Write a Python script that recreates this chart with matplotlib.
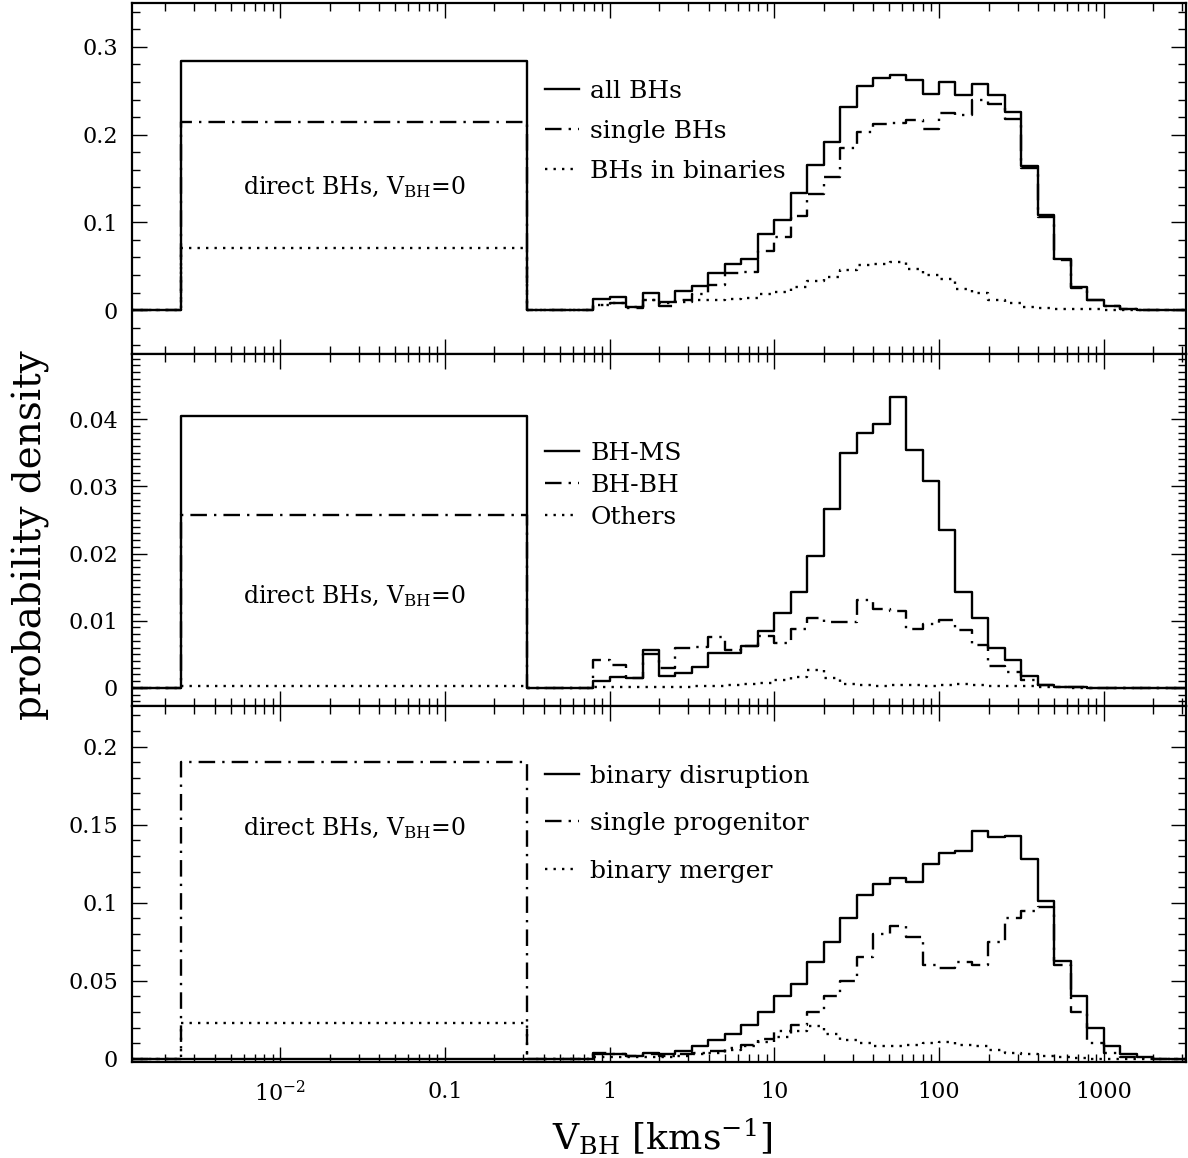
import numpy as np
import matplotlib.pyplot as plt
from matplotlib.ticker import FixedLocator, FuncFormatter, MultipleLocator, NullFormatter

plt.rcParams['font.family'] = 'DejaVu Serif'
plt.rcParams['mathtext.fontset'] = 'dejavuserif'

# velocity bins: 0.1 dex from log V = -0.1 upward; direct BHs put in [10^-2.6, 10^-0.5]
log_lo = -0.1
dlog = 0.1
box_lo, box_hi = -2.6, -0.5
xmin, xmax = 10**-2.9, 10**3.5

# top panel: all / single / binary BHs
all_box, single_box, bin_box = 0.284, 0.214, 0.0705
all_bhs = [0.0123, 0.0146, 0.003, 0.020, 0.0096, 0.022, 0.028, 0.042, 0.053, 0.058,
           0.0865, 0.103, 0.133, 0.165, 0.192, 0.231, 0.255, 0.265, 0.268, 0.262,
           0.246, 0.260, 0.245, 0.258, 0.245, 0.226, 0.164, 0.108, 0.058, 0.026,
           0.012, 0.0046, 0.0015, 0.0005]
single_bhs = [0.006, 0.0085, 0.002, 0.0115, 0.0046, 0.012, 0.018, 0.029, 0.042, 0.043,
              0.067, 0.083, 0.107, 0.132, 0.152, 0.185, 0.203, 0.212, 0.213, 0.217,
              0.206, 0.225, 0.222, 0.239, 0.235, 0.218, 0.162, 0.106, 0.057, 0.025,
              0.0115, 0.0043, 0.0013, 0.0004]
binary_bhs = [0.006, 0.008, 0.004, 0.011, 0.008, 0.0096, 0.0115, 0.012, 0.013, 0.014,
              0.018, 0.021, 0.026, 0.033, 0.038, 0.046, 0.051, 0.053, 0.055, 0.047,
              0.040, 0.035, 0.024, 0.019, 0.012, 0.0077, 0.004, 0.0023, 0.0015, 0.001,
              0.0008, 0.0004, 0.0002, 0.0001]

# middle panel: binary types
bhms_box, bhbh_box, other_box = 0.0405, 0.0257, 0.0003
bh_ms = [0.0010, 0.0016, 0.0014, 0.0056, 0.0017, 0.0022, 0.0031, 0.0052, 0.0052, 0.0062,
         0.0085, 0.0112, 0.0143, 0.0196, 0.0267, 0.0350, 0.0380, 0.0393, 0.0433, 0.0354,
         0.0308, 0.0235, 0.0142, 0.0104, 0.0059, 0.0042, 0.0017, 0.0005, 0.0002, 0.0001,
         0.0, 0.0, 0.0, 0.0]
bh_bh = [0.0041, 0.0034, 0.0014, 0.0050, 0.0030, 0.0060, 0.0061, 0.0075, 0.0057, 0.0062,
         0.0077, 0.0067, 0.0087, 0.0104, 0.0098, 0.0098, 0.0131, 0.0117, 0.0114, 0.0087,
         0.0095, 0.0101, 0.0086, 0.0064, 0.0032, 0.0023, 0.0011, 0.0004, 0.0002, 0.0001,
         0.0, 0.0, 0.0, 0.0]
others = [0.0001, 0.0002, 0.0002, 0.0002, 0.0002, 0.0002, 0.0003, 0.0003, 0.0004, 0.0006,
          0.0007, 0.0011, 0.0016, 0.0027, 0.0015, 0.0006, 0.0004, 0.0003, 0.0004, 0.0005,
          0.0003, 0.0004, 0.0006, 0.0004, 0.0003, 0.0003, 0.0003, 0.0002, 0.0001, 0.0,
          0.0, 0.0, 0.0, 0.0]

# bottom panel: formation channel
disr_box, sprog_box, merger_box = 0.0, 0.190, 0.023
disruption = [0.003, 0.003, 0.002, 0.004, 0.003, 0.005, 0.008, 0.012, 0.016, 0.022,
              0.030, 0.040, 0.048, 0.062, 0.075, 0.090, 0.105, 0.112, 0.116, 0.113,
              0.125, 0.132, 0.133, 0.146, 0.142, 0.143, 0.128, 0.101, 0.063, 0.040,
              0.020, 0.008, 0.003, 0.001]
single_prog = [0.004, 0.003, 0.002, 0.003, 0.002, 0.003, 0.004, 0.005, 0.007, 0.009,
               0.013, 0.018, 0.022, 0.030, 0.040, 0.050, 0.065, 0.080, 0.085, 0.078,
               0.060, 0.058, 0.062, 0.060, 0.075, 0.090, 0.095, 0.097, 0.060, 0.030,
               0.010, 0.004, 0.001, 0.0005]
merger = [0.001, 0.001, 0.001, 0.001, 0.001, 0.002, 0.003, 0.004, 0.006, 0.008,
          0.011, 0.014, 0.018, 0.021, 0.016, 0.012, 0.010, 0.008, 0.008, 0.009,
          0.010, 0.011, 0.009, 0.008, 0.006, 0.004, 0.003, 0.002, 0.001, 0.0005,
          0.0, 0.0, 0.0, 0.0]


def step_curve(box, hist):
    n = len(hist)
    hist_edges = 10**(log_lo + dlog * np.arange(n + 1))
    x = np.concatenate([[xmin, 10**box_lo, 10**box_hi], hist_edges, [xmax]])
    y = np.concatenate([[0.0, box, 0.0], hist, [0.0, 0.0]])
    return x, y


dashdot = (0, (7, 3, 1, 3))
dotted = (0, (1, 2.6))
lw = 1.7

panels = [
    dict(series=[(all_box, all_bhs, '-', 'all BHs'),
                 (single_box, single_bhs, dashdot, 'single BHs'),
                 (bin_box, binary_bhs, dotted, 'BHs in binaries')],
         ylim=(-0.05, 0.35), major=0.1, minor=0.02, text_y=0.14,
         leg_y=0.782, spacing=0.68),
    dict(series=[(bhms_box, bh_ms, '-', 'BH-MS'),
                 (bhbh_box, bh_bh, dashdot, 'BH-BH'),
                 (other_box, others, dotted, 'Others')],
         ylim=(-0.0027, 0.0497), major=0.01, minor=0.001, text_y=0.0137,
         leg_y=0.75, spacing=0.36),
    dict(series=[(disr_box, disruption, '-', 'binary disruption'),
                 (sprog_box, single_prog, dashdot, 'single progenitor'),
                 (merger_box, merger, dotted, 'binary merger')],
         ylim=(-0.002, 0.226), major=0.05, minor=0.01, text_y=0.148,
         leg_y=0.835, spacing=0.98),
]

fig = plt.figure(figsize=(11.88, 11.58), dpi=100)
left, right = 132 / 1188, 1186 / 1188
bounds = [(3, 354), (354, 706), (706, 1062)]

for i, (p, (top, bot)) in enumerate(zip(panels, bounds)):
    ax = fig.add_axes([left, 1 - bot / 1158, right - left, (bot - top) / 1158])
    handles = []
    for box, hist, ls, label in p['series']:
        x, y = step_curve(box, hist)
        h, = ax.plot(x, y, drawstyle='steps-post', color='black', lw=lw,
                     linestyle=ls, label=label)
        handles.append(h)

    ax.set_xscale('log')
    ax.set_xlim(xmin, xmax)
    ax.set_ylim(*p['ylim'])

    ax.xaxis.set_major_locator(FixedLocator(10.0**np.arange(-3, 4)))
    ax.xaxis.set_minor_locator(FixedLocator(
        [m * 10.0**e for e in range(-3, 4) for m in range(2, 10)]))
    ax.xaxis.set_minor_formatter(NullFormatter())
    ax.yaxis.set_major_locator(MultipleLocator(p['major']))
    ax.yaxis.set_minor_locator(MultipleLocator(p['minor']))
    ax.yaxis.set_major_formatter(FuncFormatter(
        lambda v, pos: '0' if abs(v) < 1e-9 else f'{v:g}'))

    ax.tick_params(which='both', direction='in', top=True, right=True,
                   width=1.0, labelsize=16)
    ax.tick_params(which='major', length=11)
    ax.tick_params(which='minor', length=6)
    ax.tick_params(axis='y', pad=10)
    for s in ax.spines.values():
        s.set_linewidth(1.6)

    if i < 2:
        ax.xaxis.set_major_formatter(NullFormatter())
    else:
        xlabels = {1e-3: '', 1e-2: r'$10^{-2}$', 1e-1: '0.1', 1: '1',
                   10: '10', 100: '100', 1000: '1000'}
        ax.xaxis.set_major_formatter(FuncFormatter(
            lambda v, pos: min(xlabels.items(), key=lambda kv: abs(np.log10(kv[0] / v)))[1]))
        ax.tick_params(axis='x', pad=14)

    ax.text(10**((box_lo + box_hi) / 2), p['text_y'], r'direct BHs, V$_{\rm BH}$=0',
            ha='center', va='center', fontsize=17)

    ax.legend(handles=handles, loc='upper left', bbox_to_anchor=(0.392, p['leg_y']),
              frameon=False, fontsize=18, handlelength=1.35, handletextpad=0.45,
              labelspacing=p['spacing'], borderaxespad=0, borderpad=0)

fig.text(0.026, 1 - 535 / 1158, 'probability density', rotation=90,
         ha='center', va='center', fontsize=28)
fig.text(662 / 1188, 1 - 1137 / 1158, r'V$_{\rm BH}$ [kms$^{-1}$]',
         ha='center', va='center', fontsize=26)

fig.savefig('out.png', dpi=100)
